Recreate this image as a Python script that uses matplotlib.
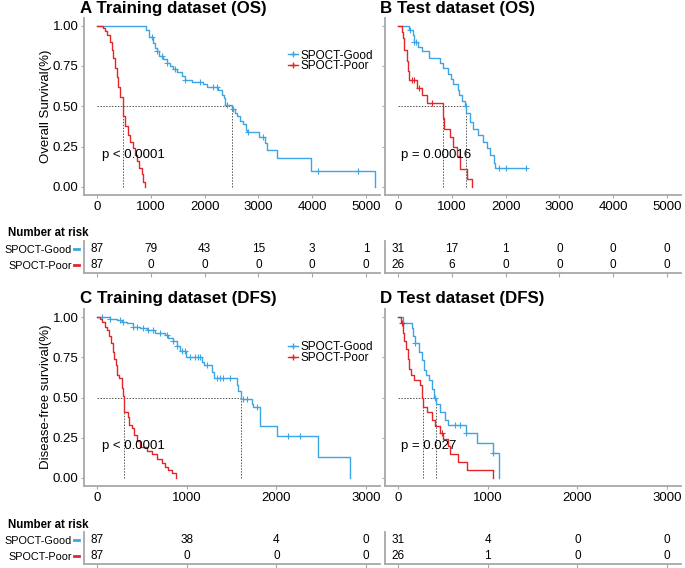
import matplotlib
matplotlib.use("Agg")
import matplotlib.pyplot as plt
import matplotlib.transforms as mtransforms
from matplotlib.lines import Line2D
import numpy as np

plt.rcParams['font.family'] = ['Liberation Sans', 'DejaVu Sans']

BLUE = '#3DA5E6'
RED = '#E3262A'
GREY = '#a8a8a8'

groups = ['SPOCT-Good', 'SPOCT-Poor']

# ---- A: training OS ----
a_good_t = [0, 911, 973, 1035, 1078, 1109, 1159, 1233, 1295, 1357, 1419, 1481, 1574, 1636,
            1760, 1976, 2038, 2255, 2317, 2360, 2379, 2515, 2565, 2596, 2658, 2720, 2770,
            2794, 3017, 3123, 3154, 3352, 3971, 5167]
a_good_s = [1.0, 0.97, 0.93, 0.89, 0.86, 0.84, 0.81, 0.79, 0.77, 0.75, 0.73, 0.71, 0.69, 0.66,
            0.65, 0.64, 0.62, 0.60, 0.57, 0.55, 0.51, 0.48, 0.46, 0.44, 0.41, 0.39, 0.35,
            0.34, 0.31, 0.27, 0.23, 0.18, 0.10, 0.0]
a_good_c = [1016, 1109, 1202, 1295, 1450, 1636, 1914, 2162, 2224, 2410, 2534, 2813, 3092, 4114, 4857]
a_poor_t = [0, 118, 149, 192, 242, 273, 304, 335, 366, 397, 428, 477, 490, 527, 570, 613, 663,
            706, 750, 787, 830, 861, 898]
a_poor_s = [1.0, 0.985, 0.965, 0.94, 0.90, 0.85, 0.80, 0.74, 0.68, 0.62, 0.56, 0.49, 0.44, 0.38,
            0.32, 0.28, 0.24, 0.20, 0.16, 0.12, 0.08, 0.03, 0.0]
a_poor_c = []
a_medians = [477, 2515]
a_risk_good = [87, 79, 43, 15, 3, 1]
a_risk_poor = [87, 0, 0, 0, 0, 0]

# ---- B: test OS ----
b_good_t = [0, 211, 273, 304, 378, 440, 582, 781, 830, 936, 979, 1029, 1109, 1134, 1190, 1250,
            1264, 1338, 1388, 1493, 1574, 1648, 1710, 1791, 1809, 2379]
b_good_s = [1.0, 0.97, 0.94, 0.90, 0.87, 0.84, 0.80, 0.77, 0.74, 0.70, 0.67, 0.64, 0.60, 0.57,
            0.53, 0.50, 0.46, 0.40, 0.36, 0.32, 0.28, 0.24, 0.20, 0.15, 0.12, 0.12]
b_good_c = [223, 304, 328, 1258, 1883, 2007, 2379]
b_poor_t = [0, 68, 99, 118, 161, 180, 211, 347, 452, 533, 830, 855, 967, 1016, 1103, 1152, 1276, 1382]
b_poor_s = [1.0, 0.96, 0.92, 0.85, 0.78, 0.72, 0.66, 0.61, 0.57, 0.52, 0.43, 0.36, 0.31, 0.25,
            0.19, 0.11, 0.05, 0.0]
b_poor_c = [254, 304, 397, 626]
b_medians = [830, 1264]
b_risk_good = [31, 17, 1, 0, 0, 0]
b_risk_poor = [26, 6, 0, 0, 0, 0]

# ---- C: training DFS ----
c_good_t = [0, 145, 219, 275, 331, 405, 479, 554, 647, 758, 795, 851, 888, 925, 992, 1167, 1193,
            1278, 1304, 1557, 1576, 1602, 1732, 1743, 1817, 2003, 2467, 2821]
c_good_s = [1.0, 0.99, 0.98, 0.97, 0.96, 0.94, 0.93, 0.92, 0.90, 0.89, 0.87, 0.85, 0.82, 0.79,
            0.75, 0.72, 0.70, 0.66, 0.62, 0.58, 0.54, 0.49, 0.46, 0.44, 0.32, 0.26, 0.13, 0.0]
c_good_c = [52, 145, 256, 294, 405, 442, 517, 572, 628, 702, 777, 851, 888, 944, 981, 1037, 1092,
            1130, 1148, 1223, 1334, 1371, 1408, 1483, 1631, 1669, 1780, 2133, 2263]
c_poor_t = [0, 33, 52, 89, 115, 137, 152, 175, 190, 212, 219, 249, 275, 290, 305, 349, 360, 386,
            413, 442, 479, 554, 609, 665, 721, 758, 795, 832, 881]
c_poor_s = [1.0, 0.99, 0.97, 0.94, 0.92, 0.88, 0.84, 0.78, 0.74, 0.70, 0.64, 0.62, 0.56, 0.51,
            0.41, 0.38, 0.33, 0.31, 0.27, 0.23, 0.19, 0.17, 0.15, 0.12, 0.09, 0.07, 0.05, 0.03, 0.0]
c_poor_c = []
c_medians = [305, 1605]
c_risk_good = [87, 38, 4, 0]
c_risk_poor = [87, 0, 0, 0]

# ---- D: test DFS ----
d_good_t = [0, 59, 152, 171, 190, 238, 264, 290, 312, 349, 375, 401, 424, 468, 524, 561, 758,
            884, 1055, 1130]
d_good_s = [1.0, 0.96, 0.93, 0.88, 0.84, 0.78, 0.73, 0.67, 0.64, 0.61, 0.55, 0.50, 0.46, 0.41,
            0.36, 0.33, 0.28, 0.22, 0.155, 0.0]
d_good_c = [59, 190, 412, 635, 691, 758, 1055]
d_poor_t = [0, 33, 52, 67, 89, 108, 126, 141, 178, 245, 264, 282, 327, 375, 412, 468, 505, 561,
            580, 673, 766, 1063]
d_poor_s = [1.0, 0.96, 0.90, 0.85, 0.80, 0.74, 0.68, 0.64, 0.61, 0.58, 0.50, 0.44, 0.41, 0.36,
            0.32, 0.28, 0.24, 0.20, 0.15, 0.10, 0.05, 0.0]
d_poor_c = [41, 487]
d_medians = [282, 424]
d_risk_good = [31, 4, 0, 0]
d_risk_poor = [26, 1, 0, 0]

os_ticks = [0, 1000, 2000, 3000, 4000, 5000]
dfs_ticks = [0, 1000, 2000, 3000]


def km(ax, t, s, cens, color):
    ax.step(t, s, where='post', color=color, lw=1.0)
    t = np.asarray(t)
    s = np.asarray(s)
    if cens:
        idx = np.searchsorted(t, cens, side='right') - 1
        ax.plot(cens, s[idx], ls='none', marker='+', ms=4, mew=0.8, color=color)


def style(ax, xlim, ticks, ylab=True):
    ax.set_xlim(*xlim)
    ax.set_ylim(-0.05, 1.05)
    ax.set_xticks(ticks)
    ax.set_yticks([0, 0.25, 0.5, 0.75, 1.0])
    if ylab:
        ax.set_yticklabels(['0.00', '0.25', '0.50', '0.75', '1.00'])
    else:
        ax.set_yticklabels([])
    for sp in ['top', 'right']:
        ax.spines[sp].set_visible(False)
    for sp in ['left', 'bottom']:
        ax.spines[sp].set_color(GREY)
        ax.spines[sp].set_linewidth(1.3)
    ax.tick_params(length=2, color=GREY, labelsize=9.5, pad=2, labelcolor='black')


def medians(ax, meds):
    ax.plot([0, max(meds)], [0.5, 0.5], ls=(0, (1.5, 1.5)), color='#555555', lw=0.7)
    for m in meds:
        ax.plot([m, m], [0, 0.5], ls=(0, (1.5, 1.5)), color='#555555', lw=0.7)


def risk(ax, ticks, good, poor, xlim, labels):
    ax.set_xlim(*xlim)
    ax.set_ylim(0.5, 2.5)
    for x, g, p in zip(ticks, good, poor):
        ax.text(x, 2, str(g), ha='center', va='center', fontsize=8.5)
        ax.text(x, 1, str(p), ha='center', va='center', fontsize=8.5)
    ax.set_xticks(ticks)
    ax.set_xticklabels([])
    ax.set_yticks([2, 1])
    if labels:
        ax.set_yticklabels(groups, fontsize=7.8)
        tr = mtransforms.blended_transform_factory(ax.transAxes, ax.transData)
        ax.plot([-0.035, -0.018], [2, 2], color=BLUE, lw=2, transform=tr, clip_on=False)
        ax.plot([-0.035, -0.018], [1, 1], color=RED, lw=2, transform=tr, clip_on=False)
        ax.tick_params(axis='y', length=0, pad=9)
    else:
        ax.set_yticklabels([])
        ax.tick_params(axis='y', length=0)
    ax.tick_params(axis='x', length=3, color=GREY)
    for sp in ['top', 'right']:
        ax.spines[sp].set_visible(False)
    for sp in ['left', 'bottom']:
        ax.spines[sp].set_color(GREY)
        ax.spines[sp].set_linewidth(1.3)


W, H = 685, 568
fig = plt.figure(figsize=(W / 100, H / 100), dpi=100)


def box(x0, y0, x1, y1):
    return [x0 / W, 1 - y1 / H, (x1 - x0) / W, (y1 - y0) / H]


os_xlim = (-242, 5260)
dfs_xlim = (-145, 3155)

axA = fig.add_axes(box(84, 17.5, 380, 195))
axB = fig.add_axes(box(385, 17.5, 681, 195))
tA = fig.add_axes(box(84, 241, 380, 273))
tB = fig.add_axes(box(385, 241, 681, 273))
axC = fig.add_axes(box(84, 309, 380, 486))
axD = fig.add_axes(box(385, 309, 681, 486))
tC = fig.add_axes(box(84, 532, 380, 564))
tD = fig.add_axes(box(385, 532, 681, 564))

panels = [
    (axA, a_good_t, a_good_s, a_good_c, a_poor_t, a_poor_s, a_poor_c, a_medians, os_xlim, os_ticks, True, 'p < 0.0001', 90),
    (axB, b_good_t, b_good_s, b_good_c, b_poor_t, b_poor_s, b_poor_c, b_medians, os_xlim, os_ticks, False, 'p = 0.00016', 50),
    (axC, c_good_t, c_good_s, c_good_c, c_poor_t, c_poor_s, c_poor_c, c_medians, dfs_xlim, dfs_ticks, True, 'p < 0.0001', 56),
    (axD, d_good_t, d_good_s, d_good_c, d_poor_t, d_poor_s, d_poor_c, d_medians, dfs_xlim, dfs_ticks, False, 'p = 0.027', 30),
]
for ax, gt, gs, gc, pt, ps, pc, meds, xl, tk, lab, ptxt, px in panels:
    medians(ax, meds)
    km(ax, gt, gs, gc, BLUE)
    km(ax, pt, ps, pc, RED)
    style(ax, xl, tk, lab)
    ax.text(px, 0.2, ptxt, fontsize=9.5, va='center', ha='left')

handles = [Line2D([], [], color=BLUE, lw=1.0, marker='+', ms=4),
           Line2D([], [], color=RED, lw=1.0, marker='+', ms=4)]
for ax in (axA, axC):
    ax.legend(handles, groups, loc='center left', bbox_to_anchor=(0.67, 0.755), frameon=False,
              fontsize=8.5, handlelength=0.8, handletextpad=0.2, labelspacing=-0.1, borderpad=0)

risk(tA, os_ticks, a_risk_good, a_risk_poor, os_xlim, True)
risk(tB, os_ticks, b_risk_good, b_risk_poor, os_xlim, False)
risk(tC, dfs_ticks, c_risk_good, c_risk_poor, dfs_xlim, True)
risk(tD, dfs_ticks, d_risk_good, d_risk_poor, dfs_xlim, False)

fig.text(80 / W, 1 - 9 / H, 'A Training dataset (OS)', fontsize=12.2, fontweight='bold', va='center')
fig.text(380 / W, 1 - 9 / H, 'B Test dataset (OS)', fontsize=12.2, fontweight='bold', va='center')
fig.text(80 / W, 1 - 299 / H, 'C Training dataset (DFS)', fontsize=12.2, fontweight='bold', va='center')
fig.text(380 / W, 1 - 299 / H, 'D Test dataset (DFS)', fontsize=12.2, fontweight='bold', va='center')

fig.text(46 / W, 1 - 106 / H, 'Overall Survival(%)', rotation=90, fontsize=9.5, ha='center', va='center')
fig.text(46 / W, 1 - 397 / H, 'Disease-free survival(%)', rotation=90, fontsize=9.5, ha='center', va='center')

fig.text(8 / W, 1 - 233 / H, 'Number at risk', fontsize=8.3, fontweight='bold', va='center')
fig.text(8 / W, 1 - 525 / H, 'Number at risk', fontsize=8.3, fontweight='bold', va='center')

fig.savefig('out.png', dpi=100)
